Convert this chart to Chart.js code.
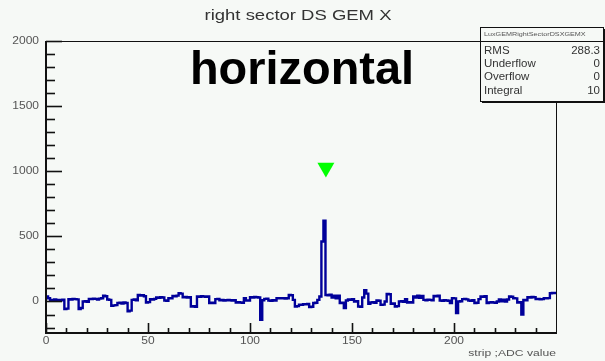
<!DOCTYPE html>
<html>
<head>
<meta charset="utf-8">
<script src="https://cdn.jsdelivr.net/npm/chart.js@4"></script>
<style>
  html, body { margin: 0; padding: 0; background: #f6f9f6; }
  #wrap { width: 605px; height: 361px; }
</style>
</head>
<body>
<div id="wrap"><canvas id="hist" width="605" height="361"></canvas></div>
<script>
// strip histogram, one bin per strip (0..249)
const binValues = [
  30, 38, 25, 12, 10, 15, 8, 12, 10, 14,
  -58, -55, 18, 15, 20, 18, 16, -58, -50, 0,
  2, -2, 20, 18, 22, 20, 15, 22, 25, 45,
  40, 15, 12, -33, -30, -28, -12, -10, -15, -8,
  -12, -76, -70, 12, 15, 10, 50, 45, 48, 40,
  -8, -5, 18, 15, 20, 30, 28, 32, 30, 8,
  6, 25, 24, 43, 40, 45, 63, 60, 33, 35,
  30, 33, -38, -36, -40, 38, 35, 40, 38, 36,
  38, -12, -10, -12, 18, 20, 10, 12, 8, 10,
  12, 10, 8, 10, -8, -6, -8, -10, 25, 8,
  8, 33, 30, 35, 33, 30, -140, 10, 20, 22,
  8, 6, 10, 8, 25, 24, 26, 25, 22, 25,
  50, 48, 12, -38, -36, -25, -26, -20, -22, -18,
  -43, -40, -12, -10, 12, 38, 460, 620, 50, 48,
  52, 30, 45, 25, 45, -12, -10, -50, 8, 15,
  12, 18, 0, 2, -38, -40, 30, 86, 60, -18,
  -8, -6, -10, 8, 6, -25, -24, 0, 58, 55,
  -18, -16, -38, -36, 0, 2, -2, 18, -8, -6,
  -8, 38, 30, 45, 28, 42, 12, 10, 14, 12,
  10, 43, 40, 45, 8, 6, 10, 8, 6, -12,
  25, 24, -89, 0, 2, 18, 20, 16, 8, 6,
  10, -12, -10, 18, 38, 36, 40, -12, -8, -6,
  -8, -10, 0, 15, 2, 14, 0, 15, 38, 36,
  25, 24, -8, -6, -100, 12, 10, 33, 30, 35,
  33, 18, 20, 16, 18, 25, 24, 26, 63, 65
];
const firstStrip = 0;

// found-cluster marker
const markerStrip = [137.2];
const markerValue = [1028];

// axes
const xRange = [0, 250];
const yRange = [-242, 2000];
const xLabels = [0, 50, 100, 150, 200];
const yLabels = [0, 500, 1000, 1500, 2000];

// stats box
const statNames = ['RMS', 'Underflow', 'Overflow', 'Integral'];
const statValues = ['288.3', '0', '0', '10'];

const histPoints = binValues.map((v, i) => ({ x: firstStrip + i, y: v }));
histPoints.push({ x: firstStrip + binValues.length, y: binValues[binValues.length - 1] });

// canvas text is a bit wide in these ROOT-style plots
function wideText(ctx, text, x, y, align, sx) {
  ctx.save();
  ctx.translate(x, y);
  ctx.scale(sx, 1);
  ctx.textAlign = align;
  ctx.fillText(text, 0, 0);
  ctx.restore();
}

const rootFrame = {
  id: 'rootFrame',
  afterDraw(chart) {
    const ctx = chart.ctx;
    const a = chart.chartArea;
    const xs = chart.scales.x;
    const ys = chart.scales.y;

    ctx.save();
    ctx.strokeStyle = '#111';
    ctx.lineWidth = 1;
    ctx.strokeRect(a.left + 0.5, a.top + 0.5, a.right - a.left, a.bottom - a.top);

    // axis lines
    ctx.lineWidth = 2;
    ctx.beginPath();
    ctx.moveTo(a.left, a.top);
    ctx.lineTo(a.left, a.bottom);
    ctx.lineTo(a.right, a.bottom);
    ctx.stroke();

    // y ticks, inside the frame
    ctx.lineWidth = 1.6;
    for (let v = -200; v <= 2000; v += 100) {
      const y = Math.round(ys.getPixelForValue(v)) + 0.5;
      const len = v % 500 === 0 ? 16 : 9;
      ctx.beginPath();
      ctx.moveTo(a.left, y);
      ctx.lineTo(a.left + len, y);
      ctx.stroke();
    }
    // x ticks
    for (let v = 0; v < 250; v += 10) {
      const x = Math.round(xs.getPixelForValue(v)) + 0.5;
      const len = v % 50 === 0 ? 10 : 5;
      ctx.beginPath();
      ctx.moveTo(x, a.bottom);
      ctx.lineTo(x, a.bottom - len);
      ctx.stroke();
    }

    ctx.fillStyle = '#555';
    ctx.font = '10px "Liberation Sans", Arial, sans-serif';
    ctx.textBaseline = 'middle';
    yLabels.forEach(v => wideText(ctx, String(v), a.left - 7, ys.getPixelForValue(v), 'right', 1.2));
    ctx.textBaseline = 'top';
    xLabels.forEach(v => wideText(ctx, String(v), xs.getPixelForValue(v), a.bottom + 3, 'center', 1.2));

    ctx.font = '9px "Liberation Sans", Arial, sans-serif';
    ctx.textBaseline = 'middle';
    wideText(ctx, 'strip ;ADC value', a.right, 354, 'right', 1.35);

    // title
    ctx.fillStyle = '#333';
    ctx.font = '14px "Liberation Sans", Arial, sans-serif';
    wideText(ctx, 'right sector DS GEM X', 298, 16, 'center', 1.32);

    // stats box
    const bx = 480, by = 27, bw = 123, bh = 74;
    ctx.fillStyle = '#f6f9f6';
    ctx.fillRect(bx, by, bw, bh);
    ctx.fillStyle = '#111';
    ctx.fillRect(bx + 2, by + bh, bw, 2);
    ctx.fillRect(bx + bw, by + 2, 2, bh);
    ctx.lineWidth = 1;
    ctx.strokeRect(bx + 0.5, by + 0.5, bw, bh);
    ctx.beginPath();
    ctx.moveTo(bx, by + 14.5);
    ctx.lineTo(bx + bw, by + 14.5);
    ctx.stroke();

    ctx.fillStyle = '#555';
    ctx.font = '6px "Liberation Sans", Arial, sans-serif';
    wideText(ctx, 'LuxGEMRightSectorDSXGEMX', bx + 4, by + 7.5, 'left', 1.2);
    ctx.fillStyle = '#333';
    ctx.font = '10px "Liberation Sans", Arial, sans-serif';
    statNames.forEach((n, i) => {
      const y = by + 24 + i * 13.3;
      wideText(ctx, n, bx + 4, y, 'left', 1.15);
      wideText(ctx, statValues[i], bx + bw - 3, y, 'right', 1.15);
    });

    // run tag
    ctx.fillStyle = '#000';
    ctx.font = 'bold 46px "Liberation Sans", Arial, sans-serif';
    ctx.textBaseline = 'alphabetic';
    wideText(ctx, 'horizontal', 302, 84, 'center', 1.02);
    ctx.restore();
  }
};

new Chart(document.getElementById('hist'), {
  type: 'line',
  data: {
    datasets: [
      {
        data: histPoints,
        stepped: 'after',
        borderColor: '#00009a',
        borderWidth: 2.4,
        pointRadius: 0,
        fill: false
      },
      {
        type: 'scatter',
        data: markerStrip.map((s, i) => ({ x: s, y: markerValue[i] })),
        pointStyle: 'triangle',
        rotation: 180,
        radius: 9.8,
        backgroundColor: '#00ff00',
        borderColor: '#00ff00',
        borderWidth: 0
      }
    ]
  },
  options: {
    responsive: false,
    animation: false,
    layout: { padding: { left: 46, right: 49, top: 41, bottom: 28 } },
    scales: {
      x: { type: 'linear', min: xRange[0], max: xRange[1], display: false },
      y: { min: yRange[0], max: yRange[1], display: false }
    },
    plugins: { legend: { display: false }, tooltip: { enabled: false } }
  },
  plugins: [rootFrame]
});
</script>
</body>
</html>
